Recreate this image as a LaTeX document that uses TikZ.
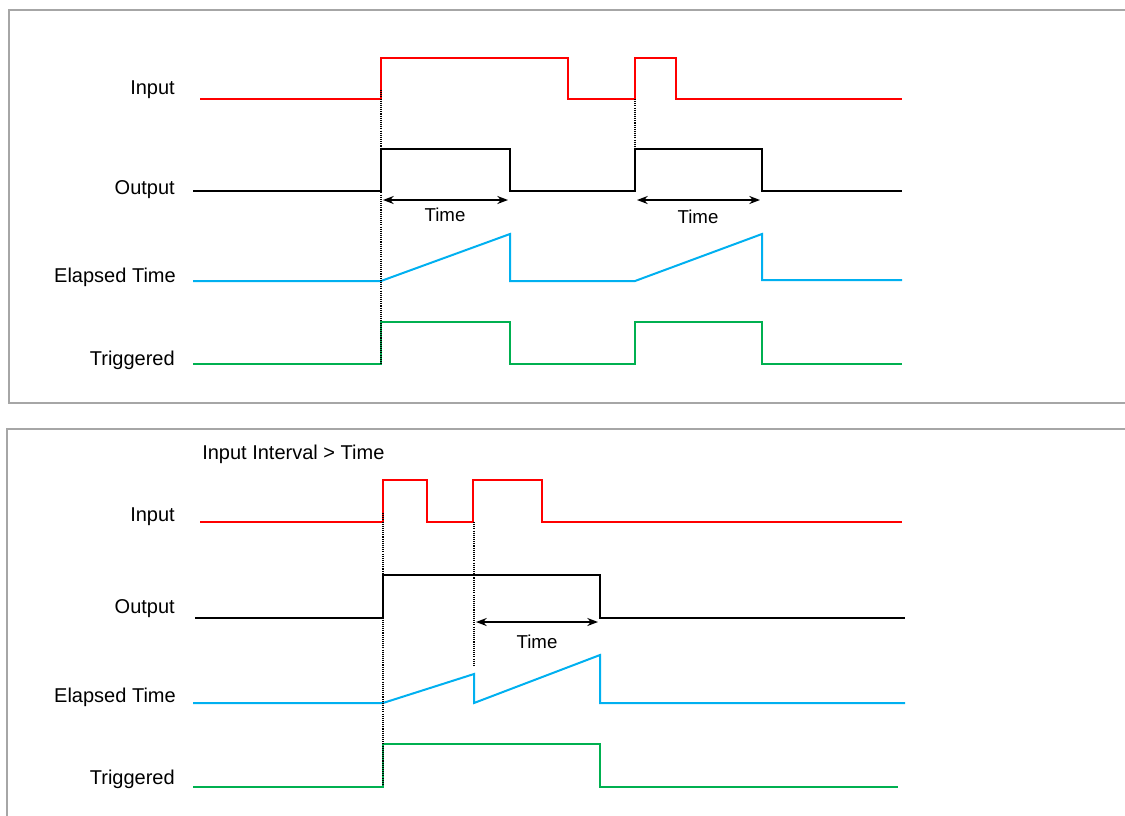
\documentclass[tikz,border=0pt]{standalone}
\usepackage{fontspec}
\setmainfont{Liberation Sans}
\usetikzlibrary{arrows.meta,positioning}
\definecolor{sigred}{HTML}{FF0000}
\definecolor{sigcyan}{HTML}{00B0F0}
\definecolor{siggreen}{HTML}{00B050}
\definecolor{panelgray}{HTML}{A6A6A6}
\tikzset{
  panel/.style={draw=panelgray,line width=1.5pt},
  sig/.style={line width=1.5pt,line join=miter},
  marker/.style={dash pattern=on 0.8pt off 0.8pt,line width=0.9pt},
  span/.style={{Stealth[length=8pt,width=6pt]}-{Stealth[length=8pt,width=6pt]},line width=1.3pt},
  lbl/.style={anchor=east,inner sep=0pt,font=\fontsize{15}{18}\selectfont},
  tlbl/.style={inner sep=0pt,font=\fontsize{14}{17}\selectfont}
}
\begin{document}
\begin{tikzpicture}[x=0.75pt,y=-0.75pt]
\useasboundingbox (0,0) rectangle (1125,815);
% panels
\draw[panel] (1140,10) -- (9,10) -- (9,403) -- (1140,403);
\draw[panel] (1140,429) -- (7,429) -- (7,830);

% ---- top panel
\node[lbl] (in1) at (175,90) {Input};
\node[lbl] (out1) at (175,190) {Output};
\node[lbl] (el1) at (176,277) {Elapsed Time};
\node[lbl] (tr1) at (175,360) {Triggered};
\draw[sig,sigred] (200,99) -- (381,99) -- (381,58) -- (568,58) -- (568,99) -- (635,99)
  -- (635,58) -- (676,58) -- (676,99) -- (902,99);
\draw[sig,black] (193,191) -- (381,191) -- (381,149) -- (510,149) -- (510,191) -- (635,191)
  -- (635,149) -- (762,149) -- (762,191) -- (902,191);
\draw[sig,sigcyan] (193,281) -- (381,281) -- (510,234) -- (510,281) -- (635,281)
  -- (762,234) -- (762,280) -- (902,280);
\draw[sig,siggreen] (193,364) -- (381,364) -- (381,322) -- (510,322) -- (510,364) -- (635,364)
  -- (635,322) -- (762,322) -- (762,364) -- (902,364);
\draw[marker] (381,90) -- (381,364);
\draw[marker] (635,99) -- (635,191);
\coordinate (a1) at (383,200);
\coordinate (b1) at (508,200);
\coordinate (a2) at (637,200);
\coordinate (b2) at (760,200);
\draw[span] (a1) -- (b1);
\draw[span] (a2) -- (b2);
\node[tlbl] (t1) at (445,215) {Time};
\node[tlbl] (t2) at (698,217) {Time};

% ---- bottom panel
\node[anchor=west,inner sep=0pt,font=\fontsize{15}{18}\selectfont] (cap) at (202,454) {Input Interval > Time};
\node[lbl] (in2) at (175,517) {Input};
\node[lbl] (out2) at (175,609) {Output};
\node[lbl] (el2) at (176,697) {Elapsed Time};
\node[lbl] (tr2) at (175,779) {Triggered};
\draw[sig,sigred] (200,522) -- (383,522) -- (383,480) -- (427,480) -- (427,522) -- (473,522)
  -- (473,480) -- (542,480) -- (542,522) -- (902,522);
\draw[sig,black] (195,618) -- (383,618) -- (383,575) -- (600,575) -- (600,618) -- (905,618);
\draw[sig,sigcyan] (193,703) -- (383,703) -- (474,674) -- (474,703) -- (600,655)
  -- (600,703) -- (905,703);
\draw[sig,siggreen] (193,787) -- (383,787) -- (383,744) -- (600,744) -- (600,787) -- (898,787);
\draw[marker] (383,513) -- (383,785);
\draw[marker] (474,522) -- (474,667);
\coordinate (a3) at (476,622);
\coordinate (b3) at (598,622);
\draw[span] (a3) -- (b3);
\node[tlbl] (t3) at (537,642) {Time};
\end{tikzpicture}
\end{document}
